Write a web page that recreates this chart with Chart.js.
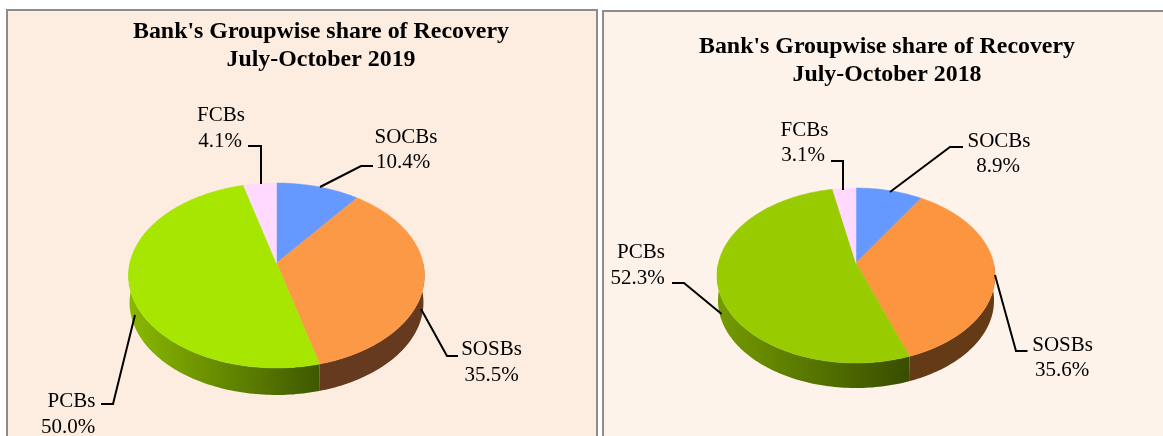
<!DOCTYPE html>
<html>
<head>
<meta charset="utf-8">
<script src="https://cdn.jsdelivr.net/npm/chart.js@4"></script>
<style>
html,body{margin:0;padding:0;background:#fff;width:1163px;height:436px;overflow:hidden}
.panel{position:absolute;box-sizing:border-box;border:2px solid #8c8c8c;border-bottom:none}
canvas{position:absolute;top:0}
</style>
</head>
<body>
<div class="panel" style="left:6px;top:9px;width:592px;height:427px;background:#FDEDE0"></div>
<div class="panel" style="left:602px;top:10px;width:561px;height:426px;background:#FEF3EB;border-right:none"></div>
<canvas id="c2019" width="642" height="436" style="left:0;width:642px;height:436px"></canvas>
<canvas id="c2018" width="552" height="436" style="left:611px;width:552px;height:436px"></canvas>
<script>
const categories = ["SOCBs", "SOSBs", "PCBs", "FCBs"];
const values2019 = [10.4, 35.5, 50.0, 4.1];
const values2018 = [8.9, 35.6, 52.3, 3.1];
const titleLines = ["Bank's Groupwise share of Recovery"];
const period2019 = "July-October 2019";
const period2018 = "July-October 2018";

const FONT = "'Liberation Serif','Times New Roman',serif";

function project(g, a, dy, shrink) {
  const u = Math.cos(a), v = Math.sin(a), w = 1 - g.k * v;
  return [g.cx + (g.rx - shrink) * u / w, g.cy + dy + g.ry * v / w];
}

function tracePath(ctx, g, a0, a1, dy, shrink, first) {
  const n = Math.max(2, Math.ceil(Math.abs(a1 - a0) / 0.02));
  for (let i = 0; i <= n; i++) {
    const p = project(g, a0 + (a1 - a0) * i / n, dy, shrink);
    if (i === 0 && first) ctx.moveTo(p[0], p[1]); else ctx.lineTo(p[0], p[1]);
  }
}

const pie3d = {
  id: "pie3d",
  beforeDatasetsDraw(chart, args, opts) {
    const ctx = chart.ctx, g = opts.geom, meta = chart.getDatasetMeta(0);
    meta.data.forEach((arc, i) => {
      const s = arc.startAngle, e = arc.endAngle;
      const lo = Math.max(s, 0), hi = Math.min(e, Math.PI);
      if (hi > lo) {
        ctx.beginPath();
        tracePath(ctx, g, lo, hi, 0, 0, true);
        tracePath(ctx, g, hi, lo, g.depth, g.shrink, false);
        ctx.closePath();
        const w = opts.walls[i];
        if (Array.isArray(w)) {
          const pa = project(g, lo, 0, 0), pb = project(g, hi, 0, 0);
          const gr = ctx.createLinearGradient(pb[0], 0, pa[0], 0);
          gr.addColorStop(0, w[0]);
          gr.addColorStop(1, w[1]);
          ctx.fillStyle = gr;
        } else ctx.fillStyle = w;
        ctx.fill();
      }
      arc.draw = function (c) {
        c.save();
        c.beginPath();
        c.moveTo(g.cx, g.cy);
        tracePath(c, g, this.startAngle, this.endAngle, 0, 0, false);
        c.closePath();
        c.fillStyle = this.options.backgroundColor;
        c.strokeStyle = this.options.backgroundColor;
        c.lineWidth = 0.5;
        c.fill();
        c.stroke();
        c.restore();
      };
    });
  },
  afterDatasetsDraw(chart, args, opts) {
    const ctx = chart.ctx, data = chart.data.datasets[0].data;
    ctx.save();
    ctx.strokeStyle = "#000";
    ctx.lineWidth = 2;
    opts.leaders.forEach(pts => {
      ctx.beginPath();
      pts.forEach((p, i) => i ? ctx.lineTo(p[0], p[1]) : ctx.moveTo(p[0], p[1]));
      ctx.stroke();
    });
    ctx.fillStyle = "#000";
    ctx.font = "21px " + FONT;
    ctx.textAlign = "center";
    ctx.textBaseline = "middle";
    chart.data.labels.forEach((name, i) => {
      const p = opts.labelPos[i];
      ctx.fillText(name, p[0], p[1]);
      ctx.fillText(data[i].toFixed(1) + "%", p[2], p[3]);
    });
    ctx.restore();
  }
};

function build(id, ox, values, period, colors, titleTop, geom, walls, leaders, labelPos) {
  geom.cx -= ox;
  leaders.forEach(l => l.forEach(p => { p[0] -= ox; }));
  labelPos.forEach(p => { p[0] -= ox; p[2] -= ox; });
  new Chart(document.getElementById(id), {
    type: "pie",
    data: { labels: categories, datasets: [{ data: values, backgroundColor: colors, borderWidth: 0 }] },
    plugins: [pie3d],
    options: {
      responsive: false,
      animation: false,
      plugins: {
        legend: { display: false },
        tooltip: { enabled: false },
        title: {
          display: true,
          text: titleLines.concat([period]),
          color: "#000",
          align: "center",
          font: { family: FONT, size: 23.9, weight: "bold", lineHeight: 1.17 },
          padding: { top: titleTop, bottom: 0 }
        },
        pie3d: { geom, walls, leaders, labelPos }
      }
    }
  });
}

build("c2019", 0, values2019, period2019,
  ["#6699FF", "#FC9946", "#A6E600", "#FFD9FF"], 18,
  { cx: 276.5, cy: 263, rx: 146.6, ry: 90.8, k: 0.135, depth: 27, shrink: 1 },
  ["#3d5a9f", "#653A1E", ["#8AB800", "#3F5800"], "#9f8a9f"],
  [ [[373,166],[361,166],[320,187]],
    [[458,356],[447,356],[421,309]],
    [[101,404],[113,404],[135,315]],
    [[248,146],[261,146],[261,184]] ],
  [ [406,137,403,162], [491.5,349,491.5,375], [71.5,401,68,427], [221,115,220,141] ]);

build("c2018", 611, values2018, period2018,
  ["#6699FF", "#FC953F", "#99CC00", "#FFD9FF"], 33,
  { cx: 856, cy: 263, rx: 137.6, ry: 85.7, k: 0.143, depth: 25, shrink: 1 },
  ["#3d5a9f", "#653A17", ["#749B00", "#384D00"], "#9f8a9f"],
  [ [[963,147],[950,147],[890,192]],
    [[1027.5,351],[1016,351],[995,275]],
    [[672,283],[684,283],[721.6,314]],
    [[831,161],[843,161],[843,190]] ],
  [ [999,141,998,166], [1062.6,345,1062,370], [641,252,637.5,278], [804.5,130,803,155] ]);
</script>
</body>
</html>
